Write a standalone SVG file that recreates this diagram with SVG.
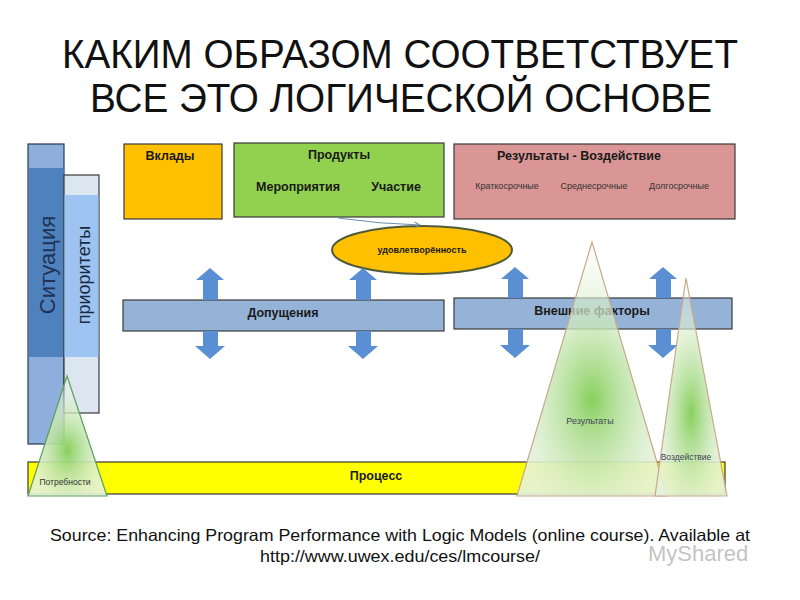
<svg xmlns="http://www.w3.org/2000/svg" width="800" height="600" viewBox="0 0 800 600">
<style>
text{font-family:"Liberation Sans",Arial,sans-serif;fill:#1a1a1a}
.title{font-size:41px;text-anchor:middle;fill:#111}
.b{font-weight:bold;font-size:12.5px;text-anchor:middle}
.s{font-size:9px;text-anchor:middle;fill:#333}
.box{stroke:#3a3a3a;stroke-width:1.2}
.arr{fill:#5B8FD3}
.tri{stroke:#C9A98A;stroke-width:1.2}
.src{font-size:16.5px;text-anchor:middle;fill:#111}
</style>
<defs>
<radialGradient id="g" cx="50%" cy="62%" r="55%">
<stop offset="0" stop-color="#7CCB4E" stop-opacity="0.9"/>
<stop offset="0.5" stop-color="#B6E09C" stop-opacity="0.55"/>
<stop offset="1" stop-color="#E6F3DC" stop-opacity="0"/>
</radialGradient>
<linearGradient id="w" x1="0" y1="0" x2="0" y2="1">
<stop offset="0" stop-color="#EEF7E8" stop-opacity="0.35"/>
<stop offset="0.6" stop-color="#E8F4E0" stop-opacity="0.75"/>
<stop offset="1" stop-color="#E4F1DA" stop-opacity="0.92"/>
</linearGradient>
<marker id="ah" viewBox="0 0 10 10" refX="9" refY="5" markerWidth="7" markerHeight="7" orient="auto">
<path d="M1,1 L9,5 L1,9" fill="none" stroke="#6A8DB0" stroke-width="1.5"/>
</marker>
</defs>
<rect width="800" height="600" fill="#fff"/>

<g id="title">
<text class="title" x="400" y="68" textLength="676" lengthAdjust="spacingAndGlyphs">КАКИМ ОБРАЗОМ СООТВЕТСТВУЕТ</text>
<text class="title" x="401" y="112" textLength="622" lengthAdjust="spacingAndGlyphs">ВСЕ ЭТО ЛОГИЧЕСКОЙ ОСНОВЕ</text>
</g>

<g id="situation">
<rect x="28" y="144" width="36" height="300" fill="#8EAEDC" stroke="#2a3a55" stroke-width="1.2"/>
<rect x="28.6" y="168" width="34.8" height="189" fill="#4F81BD"/>
<text x="55" y="265" transform="rotate(-90 55 265)" style="font-size:22px;text-anchor:middle;fill:#1F3258">Ситуация</text>
</g>

<g id="priorities">
<rect x="64" y="175" width="35" height="238" fill="#DCE6F1" stroke="#3a3a3a" stroke-width="1.2"/>
<rect x="64.6" y="195" width="33.8" height="162" fill="#9DC3F0"/>
<text x="90" y="275" transform="rotate(-90 90 275)" style="font-size:18px;text-anchor:middle;fill:#1a2a40">приоритеты</text>
</g>

<g id="process">
<rect x="28" y="462" width="697" height="32" fill="#FFFF00" stroke="#3a3a3a" stroke-width="1.2"/>
<text class="b" x="376" y="480">Процесс</text>
</g>

<g id="needs">
<polygon points="67,376 28,496 107,496" fill="url(#w)"/>
<polygon points="67,376 28,496 107,496" fill="url(#g)" stroke="#5BA05B" stroke-width="1.2"/>
<text class="s" x="65" y="485" style="font-size:8.5px">Потребности</text>
</g>

<g id="inputs">
<rect class="box" x="124" y="144" width="98" height="75" fill="#FFC000"/>
<text class="b" x="170" y="160">Вклады</text>
</g>

<g id="outputs">
<rect class="box" x="234" y="143" width="210" height="74" fill="#92D050"/>
<text class="b" x="339" y="159">Продукты</text>
<text class="b" x="298" y="191">Мероприятия</text>
<text class="b" x="396" y="191">Участие</text>
</g>

<g id="outcomes">
<rect class="box" x="454" y="144" width="281" height="75" fill="#D99694" stroke="#4a2a2a"/>
<text class="b" x="579" y="160">Результаты - Воздействие</text>
<text class="s" x="507" y="189">Краткосрочные</text>
<text class="s" x="594" y="189">Среднесрочные</text>
<text class="s" x="679" y="189">Долгосрочные</text>
</g>

<g id="satisfaction">
<ellipse cx="422" cy="250" rx="90" ry="24" fill="#FFC000" stroke="#4F5A3A" stroke-width="2"/>
<text class="b" x="422" y="253" style="font-size:9px">удовлетворённость</text>
</g>

<g id="assumptions">
<rect class="box" x="123" y="300" width="321" height="31" fill="#95B3D7"/>
<text class="b" x="283" y="317">Допущения</text>
</g>

<g id="external">
<rect class="box" x="454" y="298" width="278" height="31" fill="#95B3D7"/>
<text class="b" x="592" y="315">Внешние факторы</text>
</g>

<g id="connectors">
<path d="M338,218 Q380,224 420,225" fill="none" stroke="#6A8DB0" stroke-width="1" marker-end="url(#ah)"/>
<g class="arr">
<path d="M210,268 L224,280 L218,280 L218,300 L203,300 L203,280 L196,280 Z"/>
<path d="M203,331 L218,331 L218,346 L225,346 L210,359 L195,346 L203,346 Z"/>
<path d="M363,268 L377,280 L371,280 L371,300 L356,300 L356,280 L349,280 Z"/>
<path d="M356,331 L371,331 L371,346 L378,346 L363,359 L348,346 L356,346 Z"/>
<path d="M515,267 L529,279 L523,279 L523,298 L508,298 L508,279 L501,279 Z"/>
<path d="M508,329 L523,329 L523,345 L530,345 L515,358 L500,345 L508,345 Z"/>
<path d="M663,267 L677,279 L671,279 L671,298 L656,298 L656,279 L649,279 Z"/>
<path d="M656,329 L671,329 L671,345 L678,345 L663,358 L648,345 L656,345 Z"/>
</g>
</g>

<g id="results">
<polygon points="592,242 517,496 667,496" fill="url(#w)"/>
<polygon class="tri" points="592,242 517,496 667,496" fill="url(#g)"/>
<text class="s" x="590" y="424" style="fill:#445">Результаты</text>
</g>

<g id="impact">
<polygon points="686,278 655,496 727,496" fill="url(#w)"/>
<polygon class="tri" points="686,278 655,496 727,496" fill="url(#g)"/>
<text class="s" x="686" y="460" style="font-size:8.5px;fill:#445">Воздействие</text>
</g>

<g id="source">
<text class="src" x="400" y="541" textLength="700" lengthAdjust="spacingAndGlyphs">Source: Enhancing Program Performance with Logic Models (online course). Available at</text>
<text class="src" x="400" y="562" textLength="280" lengthAdjust="spacingAndGlyphs">http://www.uwex.edu/ces/lmcourse/</text>
</g>

<g id="watermark" opacity="0.35">
<text x="648" y="561" style="font-size:22px;fill:#555">MyShared</text>
</g>
</svg>
